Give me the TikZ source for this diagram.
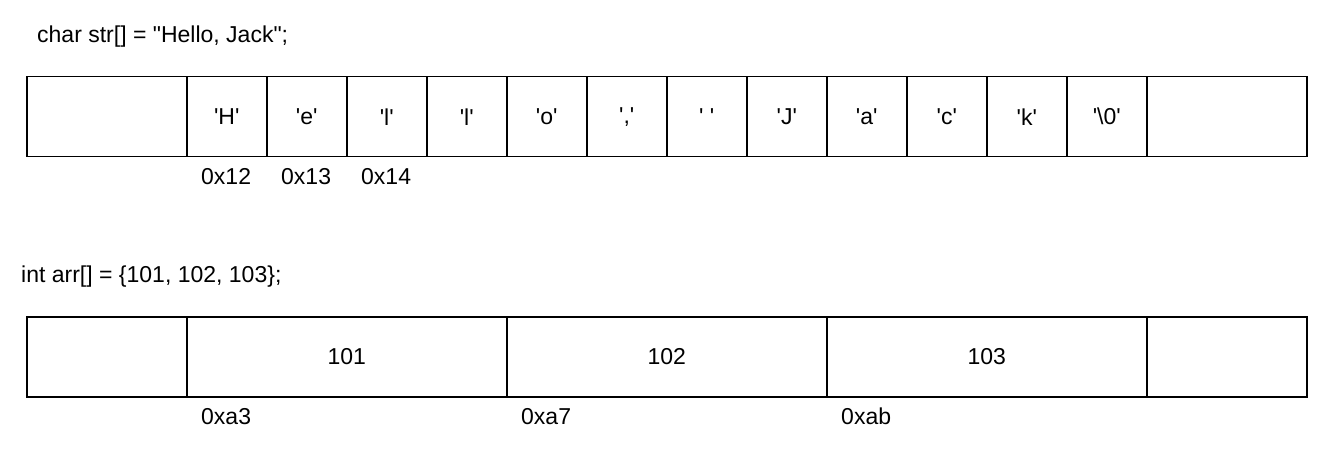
\documentclass[tikz,border=0pt]{standalone}
\usepackage{fontspec}
\setmainfont{Liberation Sans}[Ligatures=TeXOff]
\begin{document}
\begin{tikzpicture}[x=1pt,y=-1pt,
  cellbox/.style={draw=black, line width=1.5pt, minimum height=80pt, inner sep=0pt, anchor=north west, font=\fontsize{23}{27}\selectfont},
  lbl/.style={inner sep=0pt, font=\fontsize{23}{27}\selectfont}]
\useasboundingbox[fill=white] (0,0) rectangle (1324,454);
% string declaration
\node[lbl, anchor=base west] (strdecl) at (37,43) {char str[] = "Hello, Jack";};
% top row
\node[cellbox, minimum width=160pt] (t0) at (26,76) {};
\foreach \i/\t in {1/{'H'},2/{'e'},3/{'l'},4/{'l'},5/{'o'},6/{','},7/{' '},8/{'J'},9/{'a'},10/{'c'},11/{'k'},12/{'\textbackslash 0'}}{
  \node[cellbox, minimum width=80pt] (t\i) at ({186+80*(\i-1)},76) {\t};
}
\node[cellbox, minimum width=160pt] (t13) at (1146,76) {};
\node[lbl, anchor=base west] (a12) at (201,185) {0x12};
\node[lbl, anchor=base west] (a13) at (281,185) {0x13};
\node[lbl, anchor=base west] (a14) at (361,185) {0x14};
% int declaration
\node[lbl, anchor=base west] (arrdecl) at (21,282) {int arr[] = \{101, 102, 103\};};
% bottom row
\node[cellbox, minimum width=160pt] (b0) at (26,316) {};
\node[cellbox, minimum width=320pt] (b1) at (186,316) {101};
\node[cellbox, minimum width=320pt] (b2) at (506,316) {102};
\node[cellbox, minimum width=320pt] (b3) at (826,316) {103};
\node[cellbox, minimum width=160pt] (b4) at (1146,316) {};
\node[lbl, anchor=base west] (aa3) at (201,424) {0xa3};
\node[lbl, anchor=base west] (aa7) at (521,424) {0xa7};
\node[lbl, anchor=base west] (aab) at (841,424) {0xab};
\end{tikzpicture}
\end{document}
